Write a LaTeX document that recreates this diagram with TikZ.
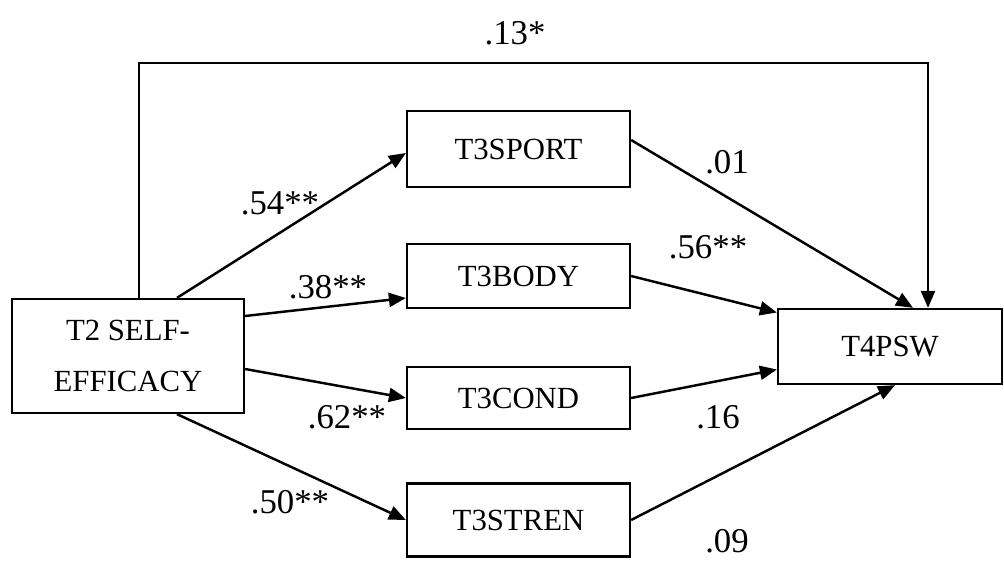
\documentclass[tikz,border=0pt]{standalone}
\usepackage{fontspec}
\setmainfont{Liberation Serif}
\usetikzlibrary{arrows.meta,calc}

\begin{document}
\begin{tikzpicture}[x=0.02cm,y=-0.02cm,
        box/.style={draw,line width=1.3pt,inner sep=0pt,font=\fontsize{17.5}{29}\selectfont},
        coef/.style={font=\fontsize{19.8}{24}\selectfont,inner sep=0pt},
        path/.style={line width=1.4pt,-{Triangle[length=0.34cm,width=0.28cm]}}]
            \useasboundingbox (0,0) rectangle (1004,561);

            \node[box,minimum width=4.64cm,minimum height=2.28cm,align=center] (self) at (128,356) {T2 SELF-\\EFFICACY};
            \node[box,minimum width=4.46cm,minimum height=1.52cm] (sport) at (518.5,149) {T3SPORT};
            \node[box,minimum width=4.46cm,minimum height=1.28cm] (body) at (518.5,276) {T3BODY};
            \node[box,minimum width=4.46cm,minimum height=1.24cm] (cond) at (518.5,398) {T3COND};
            \node[box,minimum width=4.46cm,minimum height=1.46cm] (stren) at (518.5,520) {T3STREN};
            \node[box,minimum width=4.48cm,minimum height=1.5cm] (psw) at (890,346.5) {T4PSW};

            \draw[path] ($(self.north)+(11,0)$) -- (139,63) -- (928,63) -- ($(psw.north)+(38,0)$);
            \draw[path] ($(self.north)+(49,0)$) -- ($(sport.west)+(0,4)$);
            \draw[path] ($(self.east)+(0,-40)$) -- ($(body.west)+(0,22)$);
            \draw[path] ($(self.east)+(0,13)$) -- (cond.west);
            \draw[path] ($(self.south)+(49,0)$) -- (stren.west);

            \draw[path] ($(sport.east)+(0,-9)$) -- ($(psw.north)+(23,0)$);
            \draw[path] (body.east) -- ($(psw.west)+(0,-34)$);
            \draw[path] (cond.east) -- ($(psw.west)+(0,23)$);
            \draw[path] (stren.east) -- ($(psw.south)+(5,0)$);

            \node[coef] (c13) at (515,33) {.13*};
            \node[coef] (c54) at (280,203) {.54**};
            \node[coef] (c38) at (328,287) {.38**};
            \node[coef] (c62) at (347,417) {.62**};
            \node[coef] (c50) at (290,502) {.50**};
            \node[coef] (c01) at (727,162) {.01};
            \node[coef] (c56) at (708,247) {.56**};
            \node[coef] (c16) at (718,417) {.16};
            \node[coef] (c09) at (727,541) {.09};
        \end{tikzpicture}
\end{document}
